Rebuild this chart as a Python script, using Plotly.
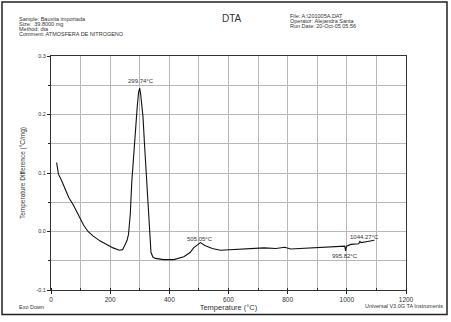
import plotly.graph_objects as go

# Data
temperature_c = [19, 22, 25, 35, 47, 60, 76, 92, 110, 125, 143, 165, 189, 210, 231, 242,
                 251, 257, 262, 268, 273, 279, 285, 291, 296, 299.74, 303, 307, 311, 316,
                 322, 326, 330, 334, 338, 345, 353, 380, 415, 449, 470, 482, 495, 505.05,
                 520, 545, 573, 607, 641, 680, 720, 760, 790, 810, 850, 878, 920, 946, 980,
                 993, 995.82, 999, 1014, 1040, 1044.27, 1048, 1070, 1093]
temp_diff = [0.118, 0.105, 0.098, 0.088, 0.073, 0.058, 0.045, 0.030, 0.011, 0.0, -0.008,
             -0.016, -0.023, -0.028, -0.032, -0.031, -0.022, -0.015, -0.005, 0.030, 0.084,
             0.130, 0.168, 0.210, 0.238, 0.245, 0.235, 0.215, 0.196, 0.150, 0.095, 0.055,
             0.017, -0.015, -0.036, -0.044, -0.046, -0.048, -0.048, -0.043, -0.036, -0.028,
             -0.022, -0.019, -0.024, -0.029, -0.032, -0.031, -0.031, -0.030, -0.028, -0.029,
             -0.027, -0.030, -0.029, -0.028, -0.027, -0.026, -0.025, -0.025, -0.033, -0.025,
             -0.022, -0.021, -0.017, -0.019, -0.017, -0.015]

peak_labels = ["299.74°C", "505.05°C", "1044.27°C", "995.82°C"]
peak_x = [305, 505, 1060, 995]
peak_y = [0.258, -0.012, -0.010, -0.042]

x_ticks = [0, 200, 400, 600, 800, 1000, 1200]
y_ticks = [-0.1, 0.0, 0.1, 0.2, 0.3]
y_tick_text = ["-0.1", "0.0", "0.1", "0.2", "0.3"]

header_left = ["Sample: Bauxita importada", "Size:  39.8000 mg", "Method: dta",
               "Comment: ATMOSFERA DE NITROGENO"]
header_right = ["File: A:\\201005A.DAT", "Operator: Alejandra Santa",
                "Run Date: 20-Oct-05 05:56"]

FONT = "Liberation Sans, Arial, sans-serif"
TXT = "#333333"
GRID = "#b8b8b8"

fig = go.Figure()
fig.add_trace(go.Scatter(x=temperature_c, y=temp_diff, mode="lines",
                         line=dict(color="#111111", width=1.1), showlegend=False,
                         hoverinfo="skip"))

# plot area in pixels: x 51..406, y 56..294
L, R, T, B = 51, 406, 56, 294
W, H = 451, 322
def px(x):
    return (x - L) / (R - L)
def py(y):
    return (B - y) / (B - T)

annotations = []
for lab, xx, yy in zip(peak_labels, peak_x, peak_y):
    annotations.append(dict(x=xx, y=yy, xref="x", yref="y", text=lab, showarrow=False,
                            font=dict(size=6, color=TXT, family=FONT)))

for i, line in enumerate(header_left):
    annotations.append(dict(x=px(17), y=py(18.7 + 5.0 * i), xref="paper", yref="paper",
                            text=line, showarrow=False, xanchor="left", yanchor="middle",
                            font=dict(size=5.5, color=TXT, family=FONT)))
for i, line in enumerate(header_right):
    annotations.append(dict(x=px(288), y=py(15.5 + 4.8 * i), xref="paper", yref="paper",
                            text=line, showarrow=False, xanchor="left", yanchor="middle",
                            font=dict(size=5.5, color=TXT, family=FONT)))
annotations.append(dict(x=px(232), y=py(18), xref="paper", yref="paper", text="DTA",
                        showarrow=False, xanchor="center", yanchor="middle",
                        font=dict(size=10, color=TXT, family=FONT)))
annotations.append(dict(x=px(17), y=py(311), xref="paper", yref="paper", text="Exo Down",
                        showarrow=False, xanchor="left", yanchor="middle",
                        font=dict(size=5.5, color=TXT, family=FONT)))
annotations.append(dict(x=px(445), y=py(310), xref="paper", yref="paper",
                        text="Universal V3.0G TA Instruments", showarrow=False,
                        xanchor="right", yanchor="middle",
                        font=dict(size=5.5, color=TXT, family=FONT)))

fig.update_layout(
    width=W, height=H,
    margin=dict(l=L, r=W - R, t=T, b=H - B),
    paper_bgcolor="white", plot_bgcolor="white",
    font=dict(family=FONT, color=TXT, size=7),
    annotations=annotations,
    shapes=[dict(type="rect", xref="paper", yref="paper",
                 x0=px(2), x1=px(447), y0=py(319), y1=py(1),
                 fillcolor="rgba(0,0,0,0)",
                 line=dict(color="#222222", width=1.5), layer="above")],
    xaxis=dict(range=[0, 1200], tickmode="linear", tick0=0, dtick=200,
               showgrid=True, gridcolor=GRID, gridwidth=1,
               minor=dict(dtick=100, showgrid=True, gridcolor=GRID, ticks="inside",
                          ticklen=2, tickcolor="#222"),
               ticks="outside", ticklen=3, tickcolor="#222",
               showline=True, linecolor="#333333", linewidth=1, mirror=True,
               tickfont=dict(size=6.5, color=TXT), zeroline=False,
               title=dict(text="Temperature (°C)", font=dict(size=7.5, color=TXT), standoff=2)),
    yaxis=dict(range=[-0.1, 0.3], tickvals=y_ticks, ticktext=y_tick_text,
               showgrid=True, gridcolor=GRID, gridwidth=1,
               minor=dict(dtick=0.05, showgrid=True, gridcolor=GRID, ticks="outside",
                          ticklen=2, tickcolor="#222"),
               ticks="outside", ticklen=3, tickcolor="#222",
               showline=True, linecolor="#333333", linewidth=1, mirror=True,
               tickfont=dict(size=5.5, color=TXT), zeroline=False,
               title=dict(text="Temperature Difference (°C/mg)",
                          font=dict(size=6.5, color=TXT), standoff=10)),
)

fig.write_html("out.html", config={"displayModeBar": False},
               post_script="document.body.style.margin='0';document.body.style.overflow='hidden';")
